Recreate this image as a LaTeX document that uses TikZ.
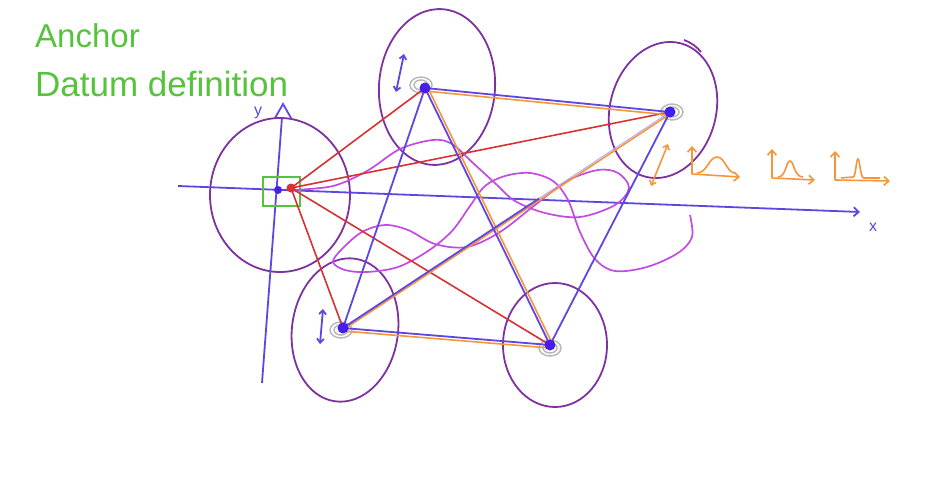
\documentclass[tikz,border=0pt]{standalone}
\usepackage{fontspec}
\setmainfont{Liberation Sans}
\usetikzlibrary{arrows.meta,calc}
\definecolor{circ}{RGB}{125,50,160}
\definecolor{blu}{RGB}{95,70,225}
\definecolor{redl}{RGB}{215,50,50}
\definecolor{orl}{RGB}{245,150,60}
\definecolor{mag}{RGB}{195,75,225}
\definecolor{grn}{RGB}{85,195,60}
\definecolor{dotb}{RGB}{70,30,235}
\tikzset{
  circline/.style={draw=circ, line width=1.8pt},
  blueline/.style={draw=blu, line width=1.8pt},
  redline/.style={draw=redl, line width=1.6pt},
  orline/.style={draw=orl, line width=1.6pt},
  magline/.style={draw=mag, line width=1.7pt},
  grayscrib/.style={draw=gray!55, line width=1.5pt},
  bdot/.style={circle, fill=dotb, inner sep=0pt, minimum size=11pt},
  rdot/.style={circle, fill=redl, inner sep=0pt, minimum size=9pt},
  lbl/.style={text=grn, anchor=base west, inner sep=0pt},
  axlbl/.style={text=blu, font=\fontsize{16}{18}\selectfont, inner sep=0pt},
  barb/.style={-{Straight Barb[length=5pt,width=9pt]}},
  dbarb/.style={{Straight Barb[length=4pt,width=7pt]}-{Straight Barb[length=4pt,width=7pt]}}
}
\begin{document}
\begin{tikzpicture}[x=1pt,y=-1pt]
\fill[white] (0,0) rectangle (929,485);
\useasboundingbox (0,0) rectangle (929,485);

% title text
\node[lbl, font=\fontsize{33}{40}\selectfont] (t1) at (35,47) {Anchor};
\node[lbl, font=\fontsize{35}{42}\selectfont] (t2) at (35,96) {Datum definition};

% point coordinates
\coordinate (p0) at (291,188);
\coordinate (p0b) at (278,190);
\coordinate (p1) at (425,88);
\coordinate (p2) at (670,112);
\coordinate (p3) at (343,328);
\coordinate (p4) at (550,345);

% ellipses around points
\draw[circline] (280,195) ellipse [x radius=70, y radius=77];
\draw[circline, rotate around={-4:(437,87)}] (437,87) ellipse [x radius=58, y radius=78];
\draw[circline, rotate around={-15:(663,110)}] (663,110) ellipse [x radius=53, y radius=69];
\draw[circline] (684,40) .. controls (692,43) and (697,47) .. (701,52);
\draw[circline, rotate around={-8:(345,330)}] (345,330) ellipse [x radius=53, y radius=72];
\draw[circline] (555,345) ellipse [x radius=52, y radius=62];

% axes
\coordinate (ybot) at (262,383);
\coordinate (ytop) at (283,104);
\coordinate (xl) at (178,186);
\coordinate (xr) at (860,212);
\draw[blueline] (ybot) -- ($(ybot)!0.95!(ytop)$);
\draw[blueline, line join=miter] (275,118) -- (ytop) -- (291,118);
\draw[blueline, barb] (xl) -- (xr);
\node[axlbl] (ylab) at (258,113) {y};
\node[axlbl] (xlab) at (873,227) {x};

% green anchor box
\draw[draw=grn, line width=1.6pt] (263,177) rectangle (300,206);

% gray scribbles
\foreach \c/\dx/\dy in {p1/-4/-3, p2/2/0, p3/-2/2, p4/0/3}{
  \draw[grayscrib] ($(\c)+(\dx,\dy)$) ellipse [x radius=11, y radius=8];
  \draw[grayscrib] ($(\c)+(\dx,\dy)$) ellipse [x radius=7, y radius=5];
}

% magenta wandering curve
\draw[magline] plot[smooth, tension=0.55] coordinates {
 (292,190) (333,186) (367,171) (400,149) (433,140) (452,144) (473,163) (497,185)
 (515,201) (545,213) (580,217) (615,205) (629,188) (618,173) (598,170) (567,181)
 (535,205) (500,232) (467,247) (435,244) (408,230) (385,225) (362,232) (342,249)
 (333,262) (345,270) (367,272) (398,267) (428,251) (452,231) (470,206) (485,186)
 (505,176) (530,173) (553,181) (568,200) (580,232) (595,259) (615,271) (647,267)
 (678,253) (692,237) (690,215)};

% red connectors from anchor
\draw[redline] (p0) -- (p1);
\draw[redline] (p0) -- (p2);
\draw[redline] (p0) -- (p3);
\draw[redline] (p0) -- (p4);

% orange twins
\draw[orline, transform canvas={yshift=-3pt}] (p1) -- (p2);
\draw[orline, transform canvas={xshift=3pt}] (p1) -- (p4);
\draw[orline, transform canvas={xshift=3pt}] (p3) -- (p2);
\draw[orline, transform canvas={yshift=-3pt}] (p3) -- (p4);

% blue connectors
\draw[blueline] (p1) -- (p2);
\draw[blueline] (p1) -- (p3);
\draw[blueline] (p1) -- (p4);
\draw[blueline] (p3) -- ($(p3)!0.6!(p2)$);
\draw[draw=blu!45, line width=1pt] ($(p3)!0.6!(p2)$) -- (p2);
\draw[blueline] (p2) -- (p4);
\draw[blueline] (p3) -- (p4);

% dots
\node[bdot] (d1) at (p1) {};
\node[bdot] (d2) at (p2) {};
\node[bdot] (d3) at (p3) {};
\node[bdot] (d4) at (p4) {};
\node[bdot, minimum size=8pt] (d0b) at (p0b) {};
\node[rdot] (d0) at (p0) {};

% double arrows (uncertainty)
\coordinate (a1t) at (404,54);
\coordinate (a1b) at (396,92);
\draw[blueline, dbarb] (a1t) -- (a1b);
\coordinate (a3t) at (323,309);
\coordinate (a3b) at (320,344);
\draw[blueline, dbarb] (a3t) -- (a3b);
\coordinate (a2t) at (668,144);
\coordinate (a2b) at (651,186);
\draw[orline, dbarb] (a2t) -- (a2b);

% orange distributions
\coordinate (o1) at (692,174);
\draw[orline, barb] (o1) -- (692,146);
\draw[orline, barb] (o1) -- (740,177);
\draw[orline] (697,173) .. controls (707,173) and (709,157) .. (717,157)
                        .. controls (725,157) and (727,173) .. (735,173);
\coordinate (o2) at (772,178);
\draw[orline, barb] (o2) -- (772,149);
\draw[orline, barb] (o2) -- (815,180);
\draw[orline] (778,177) .. controls (786,177) and (786,161) .. (790,161)
                        .. controls (794,161) and (794,177) .. (803,177);
\coordinate (o3) at (835,180);
\draw[orline, barb] (o3) -- (835,151);
\draw[orline, barb] (o3) -- (890,181);
\draw[orline] (841,178) -- (853,177) .. controls (856,177) and (856,159) .. (858,159)
              .. controls (860,159) and (860,178) .. (864,178) -- (880,178);
\end{tikzpicture}
\end{document}
